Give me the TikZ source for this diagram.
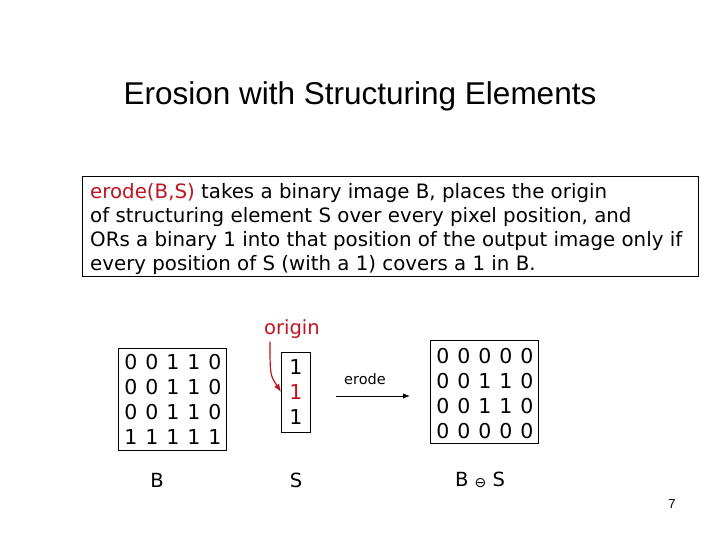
\documentclass[tikz,border=0pt]{standalone}
\usepackage{fontspec}
\setmainfont{DejaVu Sans}
\newfontfamily\arialf{Liberation Sans}
\usetikzlibrary{arrows.meta}
\definecolor{dred}{RGB}{192,20,30}
\begin{document}
\begin{tikzpicture}[x=1pt,y=-1pt,
  dig/.style={font=\fontsize{20.5}{20}\selectfont,inner sep=0pt,anchor=center},
  lab/.style={font=\fontsize{19.5}{19}\selectfont,inner sep=0pt},
  boxed/.style={draw,line width=0.8pt}]
\useasboundingbox[fill=white] (0,0) rectangle (720,540);
\node[font=\arialf\fontsize{31.5}{31}\selectfont,inner sep=0pt] (title) at (360,96) {Erosion with Structuring Elements};
\node[boxed,anchor=north west,inner sep=0pt,minimum width=616,minimum height=100] (desc) at (82,176) {};
\node[anchor=west,inner sep=0pt,font=\fontsize{19.8}{24}\selectfont,align=left] (dtext) at (90,229)
 {\textcolor{dred}{erode(B,S)} takes a binary image B, places the origin\\
 of structuring element S over every pixel position, and\\
 ORs a binary 1 into that position of the output image only if\\
 every position of S (with a 1) covers a 1 in B.};
% B matrix
\node[boxed,minimum width=108,minimum height=102,inner sep=0pt] (bbox) at (172,399) {};
\foreach \r/\row in {0/{0,0,1,1,0},1/{0,0,1,1,0},2/{0,0,1,1,0},3/{1,1,1,1,1}}{
  \foreach \v [count=\c from 0] in \row {
    \node[dig] (b\r\c) at (131+21*\c,362+25*\r) {\v};}}
\node[lab] (blab) at (157,480) {B};
% S
\node[boxed,minimum width=29,minimum height=80,inner sep=0pt] (sbox) at (296,392) {};
\node[dig] (s0) at (296,367) {1};
\node[dig,text=dred] (s1) at (296,392) {1};
\node[dig] (s2) at (296,417) {1};
\node[lab] (slab) at (296,480) {S};
\node[lab,text=dred] (orig) at (292,329) {origin};
\draw[dred,line width=1.2pt,-{Latex[length=8pt,width=6pt]}] (orig.south west) ++(6,3) coordinate (oa)
  (oa) .. controls (270,375) .. (sbox.west |- s1);
% arrow
\coordinate (a1) at (336,396);
\coordinate (a2) at (410,396);
\draw[line width=1pt,-{Latex[length=7pt]}] (a1) -- (a2);
\node[font=\fontsize{14.5}{14}\selectfont,inner sep=0pt] (elab) at (365,379) {erode};
% output
\node[boxed,minimum width=108,minimum height=103,inner sep=0pt] (obox) at (484,392) {};
\foreach \r/\row in {0/{0,0,0,0,0},1/{0,0,1,1,0},2/{0,0,1,1,0},3/{0,0,0,0,0}}{
  \foreach \v [count=\c from 0] in \row {
    \node[dig] (o\r\c) at (443+21*\c,356+25*\r) {\v};}}
\node[lab] (olab) at (480,480) {B \raisebox{-1pt}{\fontsize{14}{14}\selectfont ⊖} S};
\node[font=\arialf\fontsize{13}{13}\selectfont,inner sep=0pt] (pg) at (672,504) {7};
\end{tikzpicture}
\end{document}
